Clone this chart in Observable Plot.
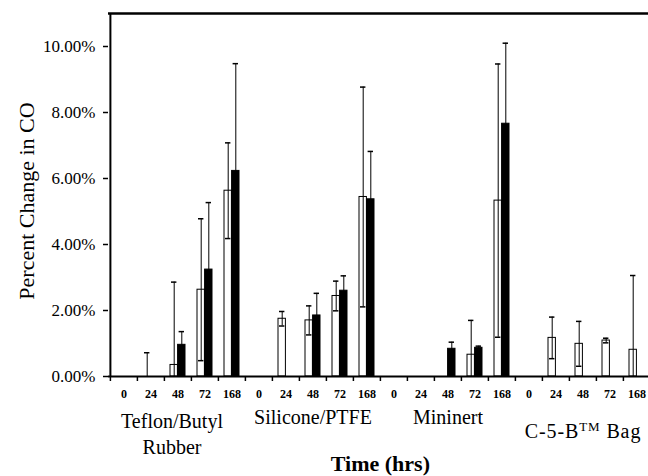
<!DOCTYPE html>
<html>
<head>
<meta charset="utf-8">
<script src="https://cdn.jsdelivr.net/npm/d3@7"></script>
<script src="https://cdn.jsdelivr.net/npm/@observablehq/plot@0.6"></script>
<style>
  html, body { margin: 0; padding: 0; background: #fff; overflow: hidden; }
  #chart svg, #chart svg text { font-family: "Liberation Serif", "Times New Roman", serif; }
</style>
</head>
<body>
<div id="chart"></div>
<script>
// ---- data (percent change in CO) ----
const groups = ["Teflon/Butyl Rubber", "Silicone/PTFE", "Mininert", "C-5-B™ Bag"];
const groupLabels = ["Teflon/Butyl\nRubber", "Silicone/PTFE", "Mininert", "C-5-B™ Bag"];
const times = ["0", "24", "48", "72", "168"];
const yTicks = [0, 2, 4, 6, 8, 10];

// open (white) bars: mean and error, per group, per time
const openMean = [
  [0, 0, 0.35, 2.63, 5.63],
  [0, 1.75, 1.70, 2.44, 5.44],
  [0, 0, 0, 0.66, 5.33],
  [0, 1.17, 0.99, 1.09, 0.81]
];
const openErr = [
  [0, 0.72, 2.51, 2.15, 1.45],
  [0, 0.22, 0.44, 0.45, 3.33],
  [0, 0, 0, 1.04, 4.14],
  [0, 0.63, 0.68, 0.07, 2.25]
];
// filled (black) bars
const filledMean = [
  [0, 0, 0.96, 3.24, 6.23],
  [0, 0, 1.85, 2.60, 5.37],
  [0, 0, 0.84, 0.87, 7.66],
  [0, 0, 0, 0, 0]
];
const filledErr = [
  [0, 0, 0.40, 2.03, 3.25],
  [0, 0, 0.67, 0.45, 1.45],
  [0, 0, 0.20, 0.05, 2.44],
  [0, 0, 0, 0, 0]
];

// ---- build table ----
const keys = [];
const rows = [];
groups.forEach((g, gi) => {
  times.forEach((t, ti) => {
    const key = t + "|" + g;
    keys.push(key);
    [["open", openMean, openErr], ["filled", filledMean, filledErr]].forEach(([s, M, E]) => {
      const v = M[gi][ti], e = E[gi][ti];
      rows.push({key, group: g, time: t, series: s, value: v, err: e,
                 lo: Math.max(0, v - e), hi: v + e});
    });
  });
});
const open = rows.filter(d => d.series === "open");
const filled = rows.filter(d => d.series === "filled");
const half = 13.6; // half band
const FF = "Liberation Serif";

const chart = Plot.plot({
  width: 648,
  height: 476,
  marginTop: 13,
  marginBottom: 100,
  marginLeft: 108,
  marginRight: 0,
  style: {background: "#fff", overflow: "visible"},
  x: {domain: keys, range: [108, 652], padding: 0},
  y: {domain: [0, 11]},
  marks: [
    // bars
    Plot.barY(open.filter(d => d.value > 0), {x: "key", y: "value", fill: "white", stroke: "black", strokeWidth: 1, insetLeft: 6, insetRight: 13.6}),
    Plot.barY(filled.filter(d => d.value > 0), {x: "key", y: "value", fill: "black", stroke: "black", strokeWidth: 1, insetLeft: 13.6, insetRight: 6}),
    // error bars
    Plot.ruleX(open.filter(d => d.err > 0), {x: "key", y1: "lo", y2: "hi", dx: -3.8, stroke: "black", strokeWidth: 1}),
    Plot.ruleX(filled.filter(d => d.err > 0), {x: "key", y1: "lo", y2: "hi", dx: 3.8, stroke: "black", strokeWidth: 1}),
    Plot.tickY(open.filter(d => d.err > 0), {x: "key", y: "hi", insetLeft: 7, insetRight: 14.6, stroke: "black", strokeWidth: 1.5}),
    Plot.tickY(filled.filter(d => d.err > 0), {x: "key", y: "hi", insetLeft: 14.6, insetRight: 7, stroke: "black", strokeWidth: 1.5}),
    Plot.tickY(open.filter(d => d.err > 0 && d.value - d.err > 0), {x: "key", y: "lo", insetLeft: 7, insetRight: 14.6, stroke: "black", strokeWidth: 1.5}),
    // frame lines
    Plot.ruleY([0], {stroke: "black", strokeWidth: 2}),
    Plot.ruleY([11], {stroke: "black", strokeWidth: 2.6}),
    Plot.ruleX([keys[0]], {dx: -half, y1: 0, y2: 11, stroke: "black", strokeWidth: 2}),
    // y axis
    Plot.axisY({ticks: yTicks, tickSize: 5, tickPadding: 8, tickFormat: d => d.toFixed(2) + "%", fontSize: 17, fontFamily: FF, label: null, strokeWidth: 1.5, style: {letterSpacing: "1.4px"}}),
    // x axis ticks at band boundaries
    Plot.axisX({tickSize: 5, tickFormat: () => "", dx: -half, label: null, strokeWidth: 1.5}),
    // x axis time labels
    Plot.axisX({tickSize: 0, tickPadding: 13, tickFormat: d => d.split("|")[0], fontSize: 12, fontWeight: "bold", fontFamily: FF, label: null, style: {letterSpacing: "0.4px"}}),
    // group labels
    Plot.text(groups.slice(0, 1), {x: d => "48|" + d, text: () => groupLabels[0], frameAnchor: "bottom", lineAnchor: "top", dx: -6, dy: 33, fontSize: 20, fontFamily: FF, lineHeight: 1.3, fill: "black", style: {letterSpacing: "1.2px"}}),
    Plot.text(groups.slice(1, 3), {x: d => "48|" + d, text: (d, i) => groupLabels[i + 1], frameAnchor: "bottom", lineAnchor: "top", dy: 33, fontSize: 20, fontFamily: FF, fill: "black", style: {letterSpacing: "1.2px"}}),
    Plot.text(groups.slice(3), {x: d => "48|" + d, text: () => groupLabels[3], frameAnchor: "bottom", lineAnchor: "top", dy: 47, fontSize: 20, fontFamily: FF, fill: "black"}),
    // x title
    Plot.text(["Time (hrs)"], {x: () => "0|" + groups[2], dx: -half, frameAnchor: "bottom", lineAnchor: "top", dy: 79, fontSize: 22, fontWeight: "bold", fontFamily: FF, fill: "black", style: {letterSpacing: "2.2px"}}),
    // y title
    Plot.text(["Percent Change in CO"], {frameAnchor: "left", textAnchor: "middle", rotate: -90, dx: -82, dy: 6, fontSize: 22, fontFamily: FF, fill: "black", style: {letterSpacing: "2.4px"}})
  ]
});

chart.querySelectorAll("text").forEach(t => {
  t.style.fontFamily = '"Liberation Serif", serif';
  if (t.textContent === "C-5-B™ Bag") {
    t.innerHTML = 'C-5-B<tspan dy="-7" font-size="13">TM</tspan><tspan dy="7"> Bag</tspan>';
    t.style.letterSpacing = "0.9px";
  }
});
document.getElementById("chart").appendChild(chart);
</script>
</body>
</html>
